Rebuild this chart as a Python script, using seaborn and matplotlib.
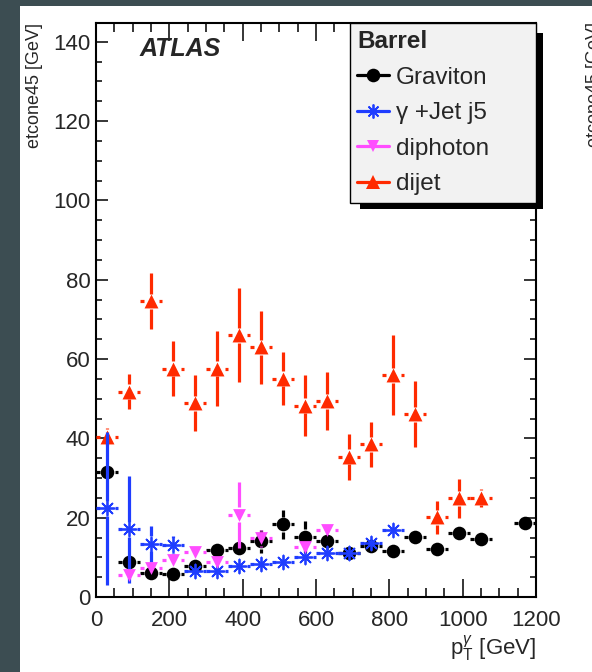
import numpy as np
import pandas as pd
import matplotlib
matplotlib.use("Agg")
import matplotlib.pyplot as plt
import seaborn as sns
from matplotlib.lines import Line2D
from matplotlib.patches import Rectangle
from matplotlib.ticker import MultipleLocator

# ---------------- data ----------------
bin_halfwidth = 30.0

grav_x = [30, 90, 150, 210, 270, 330, 390, 450, 510, 570, 630, 690, 750, 810, 870, 930, 990, 1050, 1170]
grav_y = [31.6, 8.7, 6.0, 5.7, 7.9, 11.9, 12.4, 14.0, 18.3, 15.2, 14.2, 11.2, 12.9, 11.7, 15.1, 12.1, 16.1, 14.6, 18.7]
grav_e = [1.2, 1.0, 1.0, 1.0, 1.5, 1.2, 1.5, 3.0, 3.7, 4.0, 2.0, 1.0, 1.2, 1.0, 1.0, 1.0, 1.0, 1.0, 1.0]

gjet_x = [30, 90, 150, 210, 270, 330, 390, 450, 510, 570, 630, 690, 750, 810]
gjet_y = [22.4, 17.1, 13.4, 13.1, 6.6, 6.6, 7.9, 8.3, 8.75, 10.2, 11.0, 11.2, 13.5, 16.9]
gjet_e = [19.3, 13.5, 4.5, 2.2, 0.8, 0.8, 0.8, 0.8, 0.8, 0.8, 0.8, 0.8, 0.8, 0.8]

diph_x = [90, 150, 210, 270, 330, 390, 450, 570, 630]
diph_y = [5.5, 7.4, 9.3, 11.4, 8.9, 20.7, 14.8, 12.7, 17.0]
diph_e = [1.0, 1.0, 1.0, 1.0, 1.0, 8.4, 2.1, 1.0, 1.0]

dijet_x = [30, 90, 150, 210, 270, 330, 390, 450, 510, 570, 630, 690, 750, 810, 870, 930, 990, 1050]
dijet_y = [40.4, 51.8, 74.6, 57.6, 48.9, 57.6, 66.0, 63.0, 55.0, 48.2, 49.4, 35.4, 38.5, 55.9, 46.1, 20.1, 24.9, 25.0]
dijet_e = [2.2, 4.5, 7.1, 6.9, 7.0, 9.5, 11.8, 9.2, 6.7, 7.7, 7.4, 5.8, 5.7, 10.1, 8.4, 4.1, 4.9, 2.2]

series_names = ["Graviton", "\u03b3 +Jet j5", "diphoton", "dijet"]
series_colors = ["#000000", "#1f3dff", "#ff4dff", "#ff2a00"]

x_ticks = [0, 200, 400, 600, 800, 1000, 1200]
y_ticks = [0, 20, 40, 60, 80, 100, 120, 140]

# ---------------- style ----------------
sns.set_style("ticks")
plt.rcParams["font.family"] = ["Liberation Sans", "DejaVu Sans"]
plt.rcParams["mathtext.fontset"] = "custom"
plt.rcParams["mathtext.rm"] = "Liberation Sans"
plt.rcParams["mathtext.it"] = "Liberation Sans:italic"

W, H = 592, 672
fig = plt.figure(figsize=(W / 100, H / 100), dpi=100)
fig.patch.set_facecolor("#3c4d52")
fig.add_artist(Rectangle((20 / W, 0), 1 - 20 / W, 1 - 6 / H, transform=fig.transFigure,
                         facecolor="white", edgecolor="none", zorder=-1))

ax_l, ax_r, ax_t, ax_b = 96, 536, 22.7, 597
ax = fig.add_axes([ax_l / W, 1 - ax_b / H, (ax_r - ax_l) / W, (ax_b - ax_t) / H])
ax.set_facecolor("white")
xmin, xmax, ymin, ymax = 0, 1200, 0, 144.8
ax.set_xlim(xmin, xmax)
ax.set_ylim(ymin, ymax)

px_per_x = (ax_r - ax_l) / (xmax - xmin)
px_per_y = (ax_b - ax_t) / (ymax - ymin)
gap_px = 7.5
gx = gap_px / px_per_x
gy = gap_px / px_per_y

def draw_series(x, y, e, color, marker, size, lw_marker, z, filled=True):
    x = np.asarray(x, float); y = np.asarray(y, float); e = np.asarray(e, float)
    kw = dict(colors=color, linewidth=2.3, zorder=z, capstyle="butt")
    ax.hlines(y, x - bin_halfwidth, x - gx, **kw)
    ax.hlines(y, x + gx, x + bin_halfwidth, **kw)
    m = e > gy
    if m.any():
        ax.vlines(x[m], y[m] + gy, y[m] + e[m], **kw)
        ax.vlines(x[m], y[m] - e[m], y[m] - gy, **kw)
    df = pd.DataFrame({"x": x, "y": y})
    if filled:
        sns.scatterplot(data=df, x="x", y="y", marker=marker, s=size ** 2, color=color,
                        linewidth=0, ax=ax, zorder=z + 0.5, legend=False)
    else:
        sns.scatterplot(data=df, x="x", y="y", marker=marker, s=size ** 2, color=color,
                        edgecolor=color, linewidth=lw_marker, ax=ax, zorder=z + 0.5, legend=False)

draw_series(grav_x, grav_y, grav_e, series_colors[0], "o", 9.8, 0, 3)
draw_series(dijet_x, dijet_y, dijet_e, series_colors[3], "^", 10.0, 0, 4)
draw_series(gjet_x, gjet_y, gjet_e, series_colors[1], (8, 2, 0), 10.0, 1.3, 5, filled=False)
draw_series(diph_x, diph_y, diph_e, series_colors[2], "v", 9.2, 0, 6)

# ---------------- axes cosmetics ----------------
ax.set_xticks(x_ticks)
ax.set_yticks(y_ticks)
ax.set_xticklabels([str(t) for t in x_ticks])
ax.set_yticklabels([str(t) for t in y_ticks])
ax.xaxis.set_minor_locator(MultipleLocator(50))
ax.yaxis.set_minor_locator(MultipleLocator(5))
ax.tick_params(which="both", direction="in", top=True, right=True, width=1.1, color="black")
ax.tick_params(axis="x", which="major", length=13, labelsize=16, pad=9)
ax.tick_params(axis="x", which="minor", length=6.5)
ax.tick_params(axis="y", which="major", length=8.5, labelsize=16, pad=4)
ax.tick_params(axis="y", which="minor", length=4)
for s in ax.spines.values():
    s.set_linewidth(1.5)
    s.set_color("black")
    s.set_visible(True)
ax.set_xlabel("")
ax.set_ylabel("")

ax.text(1.0, (ax_b - 655) / (ax_b - ax_t), r"p$_{\mathrm{T}}^{\gamma}$ [GeV]", transform=ax.transAxes,
        ha="right", va="baseline", fontsize=16)
fig.text(43 / W, 1 - 22.7 / H, "etcone45 [GeV]", rotation=90, ha="right", va="top", fontsize=13)
fig.text(586 / W, 1 - 22 / H, "etcone45 [GeV]", rotation=90, ha="left", va="top", fontsize=13)

ax.text((140 - ax_l) / (ax_r - ax_l), (ax_b - 56) / (ax_b - ax_t), "ATLAS", transform=ax.transAxes,
        ha="left", va="baseline", fontsize=18, fontweight="bold", fontstyle="italic")

# ---------------- legend ----------------
handles = [
    Line2D([0], [0], color=series_colors[0], lw=2.3, marker="o", ms=9.8, mew=0),
    Line2D([0], [0], color=series_colors[1], lw=2.3, marker=(8, 2, 0), ms=10, mew=1.3),
    Line2D([0], [0], color=series_colors[2], lw=2.3, marker="v", ms=9.2, mew=0),
    Line2D([0], [0], color=series_colors[3], lw=2.3, marker="^", ms=10, mew=0),
]
lx0 = (350 - ax_l) / (ax_r - ax_l)
leg = ax.legend(handles, series_names, title="Barrel", loc="upper left",
                bbox_to_anchor=(lx0, 1.0, 1.0 - lx0, 0.0), mode="expand",
                borderaxespad=0, fontsize=17.5, title_fontproperties={"weight": "bold", "size": 17.5},
                handlelength=1.3, handletextpad=0.3, labelspacing=0.56, borderpad=0.3,
                fancybox=False, frameon=True, alignment="left")
leg.get_frame().set_facecolor("#f2f2f2")
leg.get_frame().set_edgecolor("black")
leg.get_frame().set_linewidth(1.0)
leg.get_frame().set_alpha(1)
leg.set_zorder(10)

fig.canvas.draw()
bb = leg.get_window_extent()
sx0, sx1 = bb.x0 + 10, bb.x1 + 6.5
sy0, sy1 = bb.y0 - 6.5, bb.y1 - 10
shadow = Rectangle((sx0 / W, sy0 / H), (sx1 - sx0) / W, (sy1 - sy0) / H, transform=fig.transFigure,
                   facecolor="black", edgecolor="none", zorder=9.5, clip_on=False)
ax.add_artist(shadow)

fig.savefig("out.png", dpi=100, facecolor=fig.get_facecolor())
